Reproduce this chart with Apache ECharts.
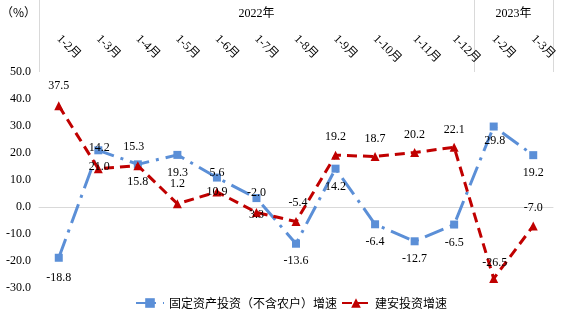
<!DOCTYPE html>
<html>
<head>
<meta charset="utf-8">
<script src="https://cdn.jsdelivr.net/npm/echarts@6/dist/echarts.min.js"></script>
<style>
  html, body { margin: 0; padding: 0; background: #fff; }
  #chart { width: 582px; height: 334px; }
</style>
</head>
<body>
<div id="chart"></div>
<script>
// ---- data ----
const categories = ['1-2月', '1-3月', '1-4月', '1-5月', '1-6月', '1-7月', '1-8月', '1-9月', '1-10月', '1-11月', '1-12月', '1-2月', '1-3月'];
const years = ['2022年', '2023年'];
const yearSpans = [11, 2];
const seriesNames = ['固定资产投资（不含农户）增速', '建安投资增速'];
// plotted values (as drawn in the picture)
const fixedInvest = [-18.8, 21.0, 15.8, 19.3, 10.9, 3.3, -13.6, 14.2, -6.4, -12.7, -6.5, 29.8, 19.2];
const constructInvest = [37.5, 14.2, 15.3, 1.2, 5.6, -2.0, -5.4, 19.2, 18.7, 20.2, 22.1, -26.5, -7.0];
// label texts (as printed in the picture)
const fixedInvestLabels = ['-18.8', '14.2', '15.3', '19.3', '5.6', '-2.0', '-13.6', '14.2', '-6.4', '-12.7', '-6.5', '29.8', '19.2'];
const constructInvestLabels = ['37.5', '21.0', '15.8', '1.2', '10.9', '3.3', '-5.4', '19.2', '18.7', '20.2', '22.1', '-26.5', '-7.0'];

// ---- layout (label offsets relative to marker) ----
const fixedLabelDy = [20, -2, -17, 18, -5, -5, 17, 18, 18, 18, 18, 14, 18];
const fixedLabelDx = [0, 1, -4, 0, 0, 0, 0, 0, 0, 0, 0, 1, 0];
const constrLabelDy = [-20, -2, 16, -20, 0, 2, -19, -18, -18, -18, -17, -16, -18];
const constrLabelDx = [0, 1, 0, 0, 0, 0, 2, 0, 0, 0, 0, 1, 0];

const BLUE = '#5B8FD7';
const RED = '#C00000';
const GRAY = '#D9D9D9';
const SERIF = "'Liberation Serif', 'Times New Roman', 'Noto Sans CJK SC', serif";
const CJK = "'Noto Sans CJK SC', sans-serif";

// year separators & centres on a 0..N value axis
const yearTicks = [0];
const yearCentres = [];
let acc = 0;
yearSpans.forEach(s => { yearCentres.push(acc + s / 2); acc += s; yearTicks.push(acc); });

function labelled(values, dx, dy) {
  return values.map((v, i) => ({ value: v, label: { offset: [dx[i], dy[i]] } }));
}

const chart = echarts.init(document.getElementById('chart'), null, { renderer: 'canvas' });
chart.setOption({
  animation: false,
  title: {
    text: '（%）', left: 1, top: 6, padding: 0,
    textStyle: { fontSize: 12, fontWeight: 'normal', color: '#000', fontFamily: CJK }
  },
  grid: { left: 39, right: 29, top: 72, bottom: 46, outerBoundsMode: 'none' },
  legend: {
    data: seriesNames,
    left: 'center', top: 292,
    itemWidth: 28, itemHeight: 12, itemGap: 4,
    textStyle: { fontSize: 12, color: '#000', fontFamily: CJK }
  },
  xAxis: [
    {
      type: 'category', data: categories, position: 'bottom',
      axisLine: { onZero: true, lineStyle: { color: GRAY, width: 1 } },
      axisTick: { show: false }, axisLabel: { show: false }, splitLine: { show: false }
    },
    {
      type: 'category', data: categories, position: 'top',
      axisLine: { show: false }, axisTick: { show: false }, splitLine: { show: false },
      axisLabel: {
        interval: 0, rotate: 45, align: 'left', verticalAlign: 'middle', margin: 35,
        fontSize: 12, color: '#000', fontFamily: SERIF
      }
    },
    {
      type: 'value', position: 'top', min: 0, max: categories.length,
      axisLine: { show: false }, splitLine: { show: false },
      axisTick: { show: true, customValues: yearTicks, length: 72, lineStyle: { color: GRAY, width: 1 } },
      axisLabel: {
        show: true, customValues: yearCentres, margin: 52,
        fontSize: 12, color: '#000', fontFamily: SERIF,
        formatter: v => years[yearCentres.indexOf(v)] || ''
      }
    }
  ],
  yAxis: {
    type: 'value', min: -30, max: 50, interval: 10,
    axisLine: { show: false }, axisTick: { show: false }, splitLine: { show: false },
    axisLabel: { margin: 8, fontSize: 12, color: '#000', fontFamily: SERIF, formatter: v => v.toFixed(1) }
  },
  series: [
    {
      name: seriesNames[0], type: 'line', xAxisIndex: 0,
      data: labelled(fixedInvest, fixedLabelDx, fixedLabelDy),
      symbol: 'rect', symbolSize: 8, showSymbol: true,
      lineStyle: { color: BLUE, width: 3, type: [20, 7, 3, 7], cap: 'butt' },
      itemStyle: { color: BLUE, borderWidth: 0 },
      label: {
        show: true, position: 'inside', fontSize: 12, color: '#000', fontFamily: SERIF,
        formatter: p => fixedInvestLabels[p.dataIndex]
      },
      z: 2
    },
    {
      name: seriesNames[1], type: 'line', xAxisIndex: 0,
      data: labelled(constructInvest, constrLabelDx, constrLabelDy),
      symbol: 'triangle', symbolSize: 9, showSymbol: true,
      lineStyle: { color: RED, width: 3, type: [10, 6], cap: 'butt' },
      itemStyle: { color: RED, borderWidth: 0 },
      label: {
        show: true, position: 'inside', fontSize: 12, color: '#000', fontFamily: SERIF,
        formatter: p => constructInvestLabels[p.dataIndex]
      },
      z: 3
    }
  ]
});
</script>
</body>
</html>
